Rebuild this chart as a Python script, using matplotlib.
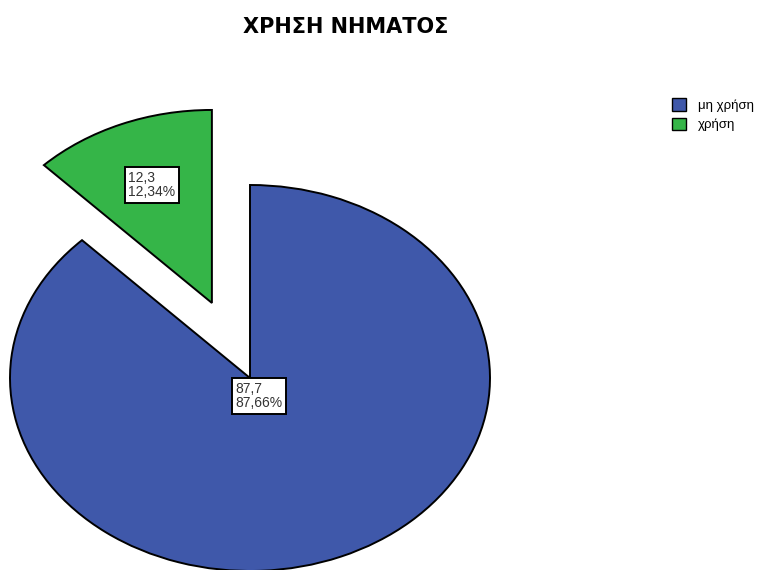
import numpy as np
import matplotlib
matplotlib.use('Agg')
from matplotlib import pyplot as plt
from matplotlib.patches import Patch

# data
categories = ['μη χρήση', 'χρήση']
values = [87.66, 12.34]
colors = ['#3F58AA', '#35B548']
explode = [0.0, 0.42]
label_dist = [0.1, 0.66]
title = 'ΧΡΗΣΗ ΝΗΜΑΤΟΣ'

plt.rcParams['font.family'] = ['Liberation Sans', 'DejaVu Sans']

W, H = 768, 570
fig = plt.figure(figsize=(W / 100, H / 100), dpi=100)
ax = fig.add_axes([0, 0, 1, 1])

wedges, _ = ax.pie(values, colors=colors, explode=explode, startangle=90,
                   counterclock=False,
                   wedgeprops=dict(edgecolor='black', linewidth=1.4))

# stretch the unit circle into the SPSS-like ellipse
cx, cy = 250, H - 378      # pie centre in pixels (from bottom)
rx, ry = 240, 193          # radii in pixels
ax.set_aspect('auto')
ax.set_xlim(-cx / rx, (W - cx) / rx)
ax.set_ylim(-cy / ry, (H - cy) / ry)
ax.axis('off')

total = sum(values)
for w, v, d in zip(wedges, values, label_dist):
    ang = np.deg2rad((w.theta1 + w.theta2) / 2)
    x = w.center[0] + d * np.cos(ang)
    y = w.center[1] + d * np.sin(ang)
    txt = ('%.1f' % v).replace('.', ',') + '\n' + ('%.2f%%' % (100 * v / total)).replace('.', ',')
    ax.text(x, y, txt, ha='center', va='center', multialignment='left',
            fontsize=10, color='#333333', linespacing=1.05,
            bbox=dict(boxstyle='square,pad=0.25', fc='white', ec='black', lw=1.4))

fig.text(346 / W, 1 - 27 / H, title, ha='center', va='center',
         fontsize=15, fontweight='bold', family='DejaVu Sans')

handles = [Patch(facecolor=c, edgecolor='black', label=l) for c, l in zip(colors, categories)]
fig.legend(handles=handles, loc='upper left', bbox_to_anchor=(660 / W, 1 - 86 / H),
           frameon=False, fontsize=9.5, handlelength=1.1, handleheight=1.1,
           handletextpad=0.9, labelspacing=0.45)

fig.savefig('out.png', dpi=100)
